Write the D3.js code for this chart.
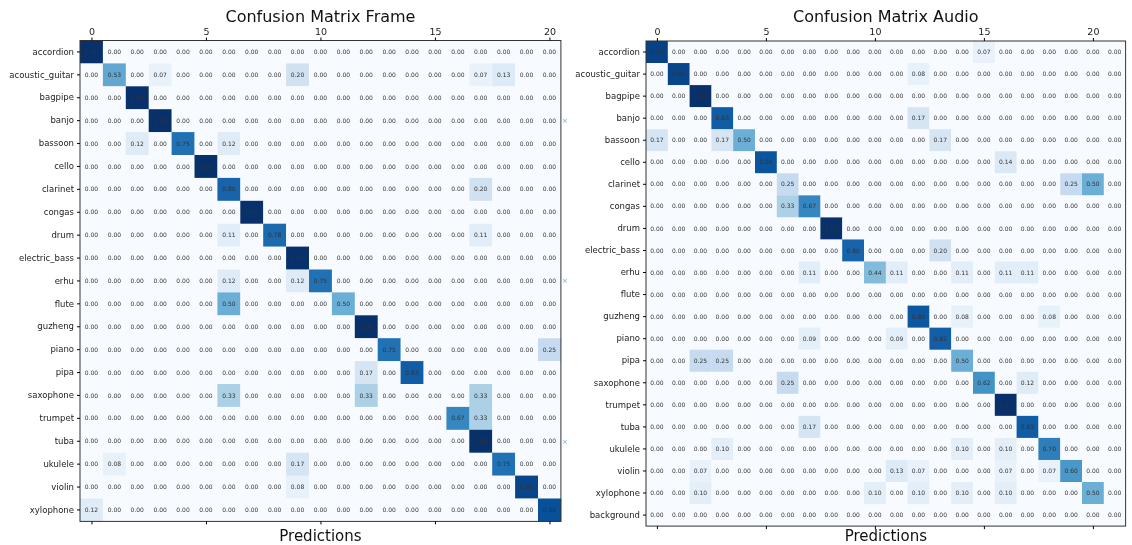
<!DOCTYPE html>
<html>
<head>
<meta charset="utf-8">
<script src="https://cdn.jsdelivr.net/npm/d3@7"></script>
<style>
  html, body { margin: 0; padding: 0; background: #fff; }
  svg { display: block; will-change: transform; }
  text { font-family: "DejaVu Sans", sans-serif; -webkit-font-smoothing: antialiased; }
</style>
</head>
<body>
<svg id="chart" width="1132" height="545"></svg>
<script>
// ---------- data ----------
const frameLabels = ["accordion","acoustic_guitar","bagpipe","banjo","bassoon","cello","clarinet","congas","drum","electric_bass","erhu","flute","guzheng","piano","pipa","saxophone","trumpet","tuba","ukulele","violin","xylophone"];
const audioLabels = frameLabels.concat(["background"]);
const xTickValues = [0, 5, 10, 15, 20];

// Confusion Matrix Frame (21 x 21)
const frameMatrix = [
  [1.00,0,0,0,0,0,0,0,0,0,0,0,0,0,0,0,0,0,0,0,0],
  [0,0.53,0,0.07,0,0,0,0,0,0.20,0,0,0,0,0,0,0,0.07,0.13,0,0],
  [0,0,1.00,0,0,0,0,0,0,0,0,0,0,0,0,0,0,0,0,0,0],
  [0,0,0,1.00,0,0,0,0,0,0,0,0,0,0,0,0,0,0,0,0,0],
  [0,0,0.12,0,0.75,0,0.12,0,0,0,0,0,0,0,0,0,0,0,0,0,0],
  [0,0,0,0,0,1.00,0,0,0,0,0,0,0,0,0,0,0,0,0,0,0],
  [0,0,0,0,0,0,0.80,0,0,0,0,0,0,0,0,0,0,0.20,0,0,0],
  [0,0,0,0,0,0,0,1.00,0,0,0,0,0,0,0,0,0,0,0,0,0],
  [0,0,0,0,0,0,0.11,0,0.78,0,0,0,0,0,0,0,0,0.11,0,0,0],
  [0,0,0,0,0,0,0,0,0,1.00,0,0,0,0,0,0,0,0,0,0,0],
  [0,0,0,0,0,0,0.12,0,0,0.12,0.75,0,0,0,0,0,0,0,0,0,0],
  [0,0,0,0,0,0,0.50,0,0,0,0,0.50,0,0,0,0,0,0,0,0,0],
  [0,0,0,0,0,0,0,0,0,0,0,0,1.00,0,0,0,0,0,0,0,0],
  [0,0,0,0,0,0,0,0,0,0,0,0,0,0.75,0,0,0,0,0,0,0.25],
  [0,0,0,0,0,0,0,0,0,0,0,0,0.17,0,0.83,0,0,0,0,0,0],
  [0,0,0,0,0,0,0.33,0,0,0,0,0,0.33,0,0,0,0,0.33,0,0,0],
  [0,0,0,0,0,0,0,0,0,0,0,0,0,0,0,0,0.67,0.33,0,0,0],
  [0,0,0,0,0,0,0,0,0,0,0,0,0,0,0,0,0,1.00,0,0,0],
  [0,0.08,0,0,0,0,0,0,0,0.17,0,0,0,0,0,0,0,0,0.75,0,0],
  [0,0,0,0,0,0,0,0,0,0.08,0,0,0,0,0,0,0,0,0,0.92,0],
  [0.12,0,0,0,0,0,0,0,0,0,0,0,0,0,0,0,0,0,0,0,0.88]
];

// Confusion Matrix Audio (22 x 22)
const audioMatrix = [
  [0.93,0,0,0,0,0,0,0,0,0,0,0,0,0,0,0.07,0,0,0,0,0,0],
  [0,0.92,0,0,0,0,0,0,0,0,0,0,0.08,0,0,0,0,0,0,0,0,0],
  [0,0,1.00,0,0,0,0,0,0,0,0,0,0,0,0,0,0,0,0,0,0,0],
  [0,0,0,0.83,0,0,0,0,0,0,0,0,0.17,0,0,0,0,0,0,0,0,0],
  [0.17,0,0,0.17,0.50,0,0,0,0,0,0,0,0,0.17,0,0,0,0,0,0,0,0],
  [0,0,0,0,0,0.86,0,0,0,0,0,0,0,0,0,0,0.14,0,0,0,0,0],
  [0,0,0,0,0,0,0.25,0,0,0,0,0,0,0,0,0,0,0,0,0.25,0.50,0],
  [0,0,0,0,0,0,0.33,0.67,0,0,0,0,0,0,0,0,0,0,0,0,0,0],
  [0,0,0,0,0,0,0,0,1.00,0,0,0,0,0,0,0,0,0,0,0,0,0],
  [0,0,0,0,0,0,0,0,0,0.80,0,0,0,0.20,0,0,0,0,0,0,0,0],
  [0,0,0,0,0,0,0,0.11,0,0,0.44,0.11,0,0,0.11,0,0.11,0.11,0,0,0,0],
  [0,0,0,0,0,0,0,0,0,0,0,0,0,0,0,0,0,0,0,0,0,0],
  [0,0,0,0,0,0,0,0,0,0,0,0,0.85,0,0.08,0,0,0,0.08,0,0,0],
  [0,0,0,0,0,0,0,0.09,0,0,0,0.09,0,0.82,0,0,0,0,0,0,0,0],
  [0,0,0.25,0.25,0,0,0,0,0,0,0,0,0,0,0.50,0,0,0,0,0,0,0],
  [0,0,0,0,0,0,0.25,0,0,0,0,0,0,0,0,0.62,0,0.12,0,0,0,0],
  [0,0,0,0,0,0,0,0,0,0,0,0,0,0,0,0,1.00,0,0,0,0,0],
  [0,0,0,0,0,0,0,0.17,0,0,0,0,0,0,0,0,0,0.83,0,0,0,0],
  [0,0,0,0.10,0,0,0,0,0,0,0,0,0,0,0.10,0,0.10,0,0.70,0,0,0],
  [0,0,0.07,0,0,0,0,0,0,0,0,0.13,0.07,0,0,0,0.07,0,0.07,0.60,0,0],
  [0,0,0.10,0,0,0,0,0,0,0,0.10,0,0.10,0,0.10,0,0.10,0,0,0,0.50,0],
  [0,0,0,0,0,0,0,0,0,0,0,0,0,0,0,0,0,0,0,0,0,0]
];

// matplotlib "Blues" colormap anchors
const bluesStops = ["#f7fbff","#deebf7","#c6dbef","#9ecae1","#6baed6","#4292c6","#2171b5","#08519c","#08306b"];
const color = d3.scaleSequential(d3.piecewise(d3.interpolateRgb, bluesStops)).domain([0, 1]);

const svg = d3.select("#chart");
svg.append("rect").attr("width", 1132).attr("height", 545).attr("fill", "#fff");

function drawMatrix(o) {
  const nR = o.matrix.length, nC = o.matrix[0].length;
  const x = d3.scaleBand().domain(d3.range(nC)).range([o.x0, o.x0 + nC * o.cw]);
  const y = d3.scaleBand().domain(o.labels).range([o.y0, o.y0 + nR * o.ch]);
  const xt = d3.scaleLinear().domain([-0.5, nC - 0.5]).range([o.x0, o.x0 + nC * o.cw]);
  const g = svg.append("g");

  const cells = [];
  o.matrix.forEach((row, i) => row.forEach((v, j) => cells.push({ i, j, v })));

  g.selectAll("rect.cell").data(cells).join("rect")
    .attr("class", "cell")
    .attr("x", d => x(d.j)).attr("y", d => y(o.labels[d.i]))
    .attr("width", x.bandwidth() + 0.3).attr("height", y.bandwidth() + 0.3)
    .attr("fill", d => color(d.v));

  g.selectAll("text.val").data(cells).join("text")
    .attr("class", "val")
    .attr("x", d => x(d.j) + x.bandwidth() / 2)
    .attr("y", d => y(o.labels[d.i]) + y.bandwidth() / 2)
    .attr("dy", "0.35em")
    .attr("text-anchor", "middle")
    .attr("font-size", 6)
    .attr("fill", "#333")
    .text(d => d.v.toFixed(2));

  // frame
  g.append("rect")
    .attr("x", o.x0).attr("y", o.y0)
    .attr("width", nC * o.cw).attr("height", nR * o.ch)
    .attr("fill", "none").attr("stroke", "#333").attr("stroke-width", 1);

  const top = g.append("g").attr("transform", `translate(0,${o.y0})`)
    .call(d3.axisTop(xt).tickValues(xTickValues).tickSize(3).tickPadding(3).tickFormat(d3.format("d")));
  top.select(".domain").remove();
  top.selectAll("text").attr("font-size", 9.5).attr("fill", "#222").attr("font-family", "DejaVu Sans");

  const bottom = g.append("g").attr("transform", `translate(0,${o.y0 + nR * o.ch})`)
    .call(d3.axisBottom(xt).tickValues(xTickValues).tickSize(3).tickFormat(""));
  bottom.select(".domain").remove();

  const left = g.append("g").attr("transform", `translate(${o.x0},0)`)
    .call(d3.axisLeft(y).tickSize(3).tickPadding(3));
  left.select(".domain").remove();
  left.selectAll("text").attr("font-size", 8.5).attr("fill", "#222").attr("font-family", "DejaVu Sans");

  g.append("text")
    .attr("x", o.x0 + nC * o.cw / 2).attr("y", 22)
    .attr("text-anchor", "middle").attr("font-size", 16).attr("fill", "#111")
    .text(o.title);

  g.append("text")
    .attr("x", o.x0 + nC * o.cw / 2).attr("y", 541)
    .attr("text-anchor", "middle").attr("font-size", 15).attr("fill", "#111")
    .text("Predictions");
}

drawMatrix({ labels: frameLabels, matrix: frameMatrix, x0: 80, y0: 40.5, cw: 22.9, ch: 22.9, title: "Confusion Matrix Frame" });
drawMatrix({ labels: audioLabels, matrix: audioMatrix, x0: 646, y0: 41, cw: 21.8, ch: 22.05, title: "Confusion Matrix Audio" });

// small blue marks seen at the right edge of the left panel
const markRows = [3, 10, 17];
svg.selectAll("text.mark").data(markRows).join("text")
  .attr("class", "mark")
  .attr("x", 565)
  .attr("y", d => 40.5 + (d + 0.5) * 22.9)
  .attr("dy", "0.35em").attr("text-anchor", "middle")
  .attr("font-size", 7).attr("fill", "#5aaee0")
  .text("×");
</script>
</body>
</html>
